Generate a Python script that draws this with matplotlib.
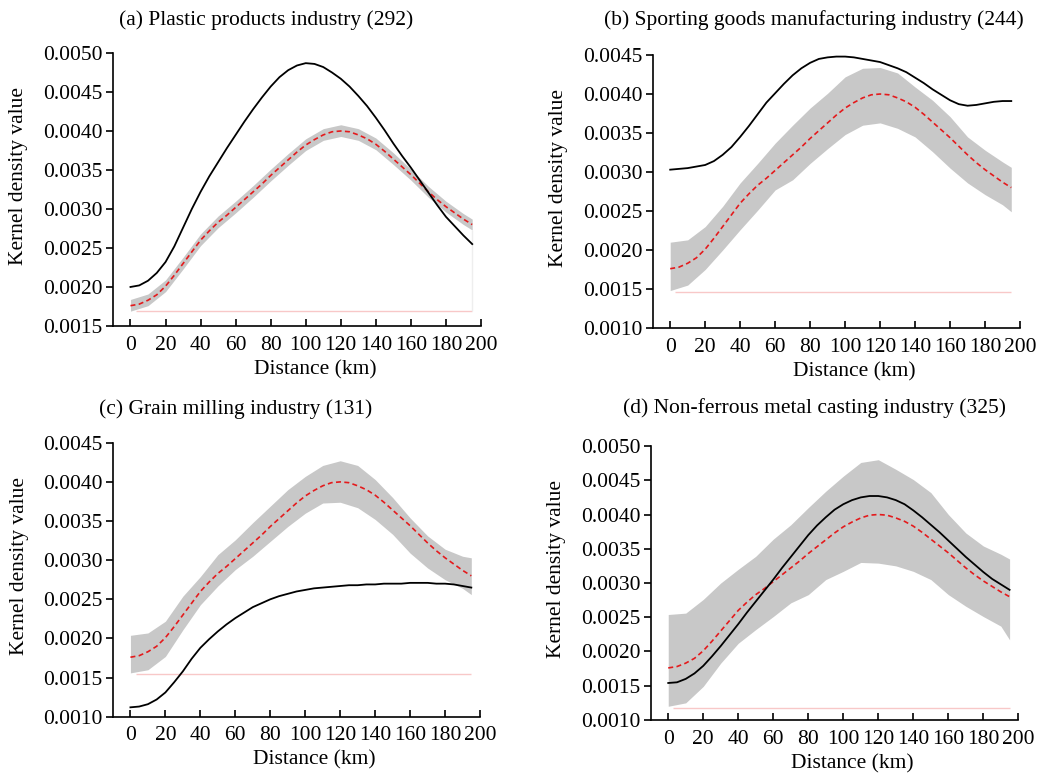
import numpy as np
import matplotlib
matplotlib.use('Agg')
import matplotlib.pyplot as plt

plt.rcParams['font.family'] = ['Liberation Serif', 'DejaVu Serif']

# Distance (km): 5 km step for lines, 10 km step for envelopes
dist_line = [0, 5, 10, 15, 20, 25, 30, 35, 40, 45, 50, 55, 60, 65, 70, 75, 80,
             85, 90, 95, 100, 105, 110, 115, 120, 125, 130, 135, 140, 145, 150,
             155, 160, 165, 170, 175, 180, 185, 190, 195]
dist_band = [0, 10, 20, 30, 40, 50, 60, 70, 80, 90, 100,
             110, 120, 130, 140, 150, 160, 170, 180, 190, 195]

# mean of simulated patterns (same in all panels)
sim_mean = [0.00176, 0.00178, 0.00183, 0.00190, 0.00201, 0.00215, 0.00230,
            0.00245, 0.00260, 0.00272, 0.00283, 0.00292, 0.00302, 0.00312,
            0.00322, 0.00332, 0.00343, 0.00353, 0.00363, 0.00373, 0.00382,
            0.00389, 0.00395, 0.00399, 0.00400, 0.00399, 0.00395, 0.00390,
            0.00383, 0.00374, 0.00364, 0.00354, 0.00344, 0.00333, 0.00322,
            0.00312, 0.00303, 0.00295, 0.00287, 0.00280]

# (a) Plastic products industry
a_obs = [0.00200, 0.00202, 0.00208, 0.00218, 0.00232, 0.00252, 0.00276,
         0.00300, 0.00322, 0.00342, 0.00360, 0.00378, 0.00395, 0.00412,
         0.00428, 0.00443, 0.00457, 0.00469, 0.00478, 0.00484, 0.00487,
         0.00486, 0.00482, 0.00475, 0.00467, 0.00457, 0.00445, 0.00432,
         0.00417, 0.00401, 0.00384, 0.00368, 0.00353, 0.00337, 0.00321,
         0.00305, 0.00290, 0.00278, 0.00266, 0.00255]
a_upper = [0.00184, 0.00191, 0.00209, 0.00238, 0.00268, 0.00291, 0.00310,
           0.00330, 0.00351, 0.00371, 0.00390, 0.00403, 0.00408, 0.00403,
           0.00391, 0.00372, 0.00351, 0.00329, 0.00310, 0.00294, 0.00287]
a_lower = [0.00169, 0.00176, 0.00194, 0.00223, 0.00253, 0.00276, 0.00295,
           0.00315, 0.00336, 0.00356, 0.00375, 0.00388, 0.00393, 0.00388,
           0.00376, 0.00357, 0.00337, 0.00315, 0.00296, 0.00280, 0.00273]
a_base = 0.00169

# (b) Sporting goods manufacturing industry
b_obs = [0.00303, 0.00304, 0.00305, 0.00307, 0.00309, 0.00314, 0.00322,
         0.00332, 0.00345, 0.00359, 0.00374, 0.00389, 0.00401, 0.00413,
         0.00424, 0.00433, 0.00440, 0.00445, 0.00447, 0.00448, 0.00448,
         0.00447, 0.00445, 0.00443, 0.00441, 0.00437, 0.00433, 0.00428,
         0.00421, 0.00414, 0.00406, 0.00399, 0.00392, 0.00387, 0.00385,
         0.00386, 0.00388, 0.00390, 0.00391, 0.00391]
b_upper = [0.00210, 0.00213, 0.00230, 0.00256, 0.00286, 0.00311, 0.00337,
           0.00360, 0.00382, 0.00401, 0.00422, 0.00433, 0.00434, 0.00427,
           0.00409, 0.00392, 0.00371, 0.00345, 0.00328, 0.00313, 0.00306]
b_lower = [0.00148, 0.00155, 0.00175, 0.00200, 0.00226, 0.00251, 0.00277,
           0.00290, 0.00311, 0.00330, 0.00348, 0.00360, 0.00363, 0.00356,
           0.00345, 0.00326, 0.00305, 0.00286, 0.00271, 0.00258, 0.00249]
b_base = 0.00146

# (c) Grain milling industry
c_obs = [0.00112, 0.00113, 0.00116, 0.00122, 0.00131, 0.00144, 0.00158,
         0.00174, 0.00188, 0.00199, 0.00209, 0.00218, 0.00226, 0.00233,
         0.00240, 0.00245, 0.00250, 0.00254, 0.00257, 0.00260, 0.00262,
         0.00264, 0.00265, 0.00266, 0.00267, 0.00268, 0.00268, 0.00269,
         0.00269, 0.00270, 0.00270, 0.00270, 0.00271, 0.00271, 0.00271,
         0.00270, 0.00270, 0.00269, 0.00267, 0.00265]
c_upper = [0.00204, 0.00207, 0.00222, 0.00254, 0.00279, 0.00307, 0.00326,
           0.00348, 0.00369, 0.00390, 0.00407, 0.00421, 0.00427, 0.00421,
           0.00403, 0.00380, 0.00354, 0.00331, 0.00314, 0.00305, 0.00303]
c_lower = [0.00156, 0.00160, 0.00177, 0.00211, 0.00243, 0.00267, 0.00288,
           0.00305, 0.00324, 0.00343, 0.00360, 0.00373, 0.00374, 0.00367,
           0.00352, 0.00333, 0.00309, 0.00290, 0.00275, 0.00264, 0.00256]
c_base = 0.00155

# (d) Non-ferrous metal casting industry
d_obs = [0.00154, 0.00155, 0.00160, 0.00168, 0.00179, 0.00193, 0.00208,
         0.00224, 0.00240, 0.00257, 0.00273, 0.00289, 0.00305, 0.00322,
         0.00338, 0.00354, 0.00370, 0.00384, 0.00396, 0.00407, 0.00415,
         0.00421, 0.00425, 0.00427, 0.00427, 0.00425, 0.00421, 0.00415,
         0.00406, 0.00396, 0.00385, 0.00374, 0.00362, 0.00350, 0.00338,
         0.00327, 0.00316, 0.00306, 0.00298, 0.00290]
d_upper = [0.00254, 0.00256, 0.00276, 0.00300, 0.00320, 0.00339, 0.00364,
           0.00385, 0.00410, 0.00434, 0.00456, 0.00476, 0.00480, 0.00466,
           0.00451, 0.00432, 0.00400, 0.00373, 0.00354, 0.00342, 0.00335]
d_lower = [0.00120, 0.00125, 0.00149, 0.00183, 0.00212, 0.00232, 0.00251,
           0.00271, 0.00283, 0.00305, 0.00317, 0.00330, 0.00329, 0.00325,
           0.00317, 0.00305, 0.00283, 0.00266, 0.00251, 0.00237, 0.00217]
d_base = 0.00118

titles = ['(a) Plastic products industry (292)',
          '(b) Sporting goods manufacturing industry (244)',
          '(c) Grain milling industry (131)',
          '(d) Non-ferrous metal casting industry (325)']
ylims = [(0.0015, 0.0050), (0.0010, 0.0045), (0.0010, 0.0045), (0.0010, 0.0050)]

panels = [(a_obs, a_upper, a_lower, a_base),
          (b_obs, b_upper, b_lower, b_base),
          (c_obs, c_upper, c_lower, c_base),
          (d_obs, d_upper, d_lower, d_base)]

# axes rectangles in figure fraction, title positions
rects = [[0.1084, 0.5794, 0.3532, 0.3522],
         [0.6264, 0.5768, 0.3525, 0.3522],
         [0.1084, 0.0752, 0.3523, 0.3535],
         [0.6245, 0.0710, 0.3528, 0.3535]]
title_pos = [(0.2553, 0.974), (0.7812, 0.974), (0.2265, 0.4723), (0.7812, 0.4735)]

fs = 15.5

fig = plt.figure(figsize=(10.42, 7.75), dpi=100)

for i in range(4):
    obs, upper, lower, base = panels[i]
    ax = fig.add_axes(rects[i])

    ax.fill_between(dist_band, lower, upper, color='#c8c8c8', lw=0)
    ax.hlines(base, 3, dist_band[-1], color='#f8c8c8', lw=1.0)
    if i == 0:
        # faint edge at the right end of panel (a)
        ax.vlines(dist_band[-1], base, lower[-1], color='#eeeeee', lw=1.0)
    ax.plot(dist_line, sim_mean, '--', color='#e41a1c', lw=1.2, dashes=(3, 2))
    ax.plot(dist_line, obs, '-', color='black', lw=1.3)

    ax.set_xlim(-10, 200)
    ax.set_ylim(ylims[i])
    ax.set_xticks(np.arange(0, 201, 20))
    ax.set_yticks(np.arange(ylims[i][0], ylims[i][1] + 1e-9, 0.0005))
    ax.yaxis.set_major_formatter(matplotlib.ticker.FormatStrFormatter('%.4f'))

    for side in ['top', 'right']:
        ax.spines[side].set_visible(False)
    for side in ['left', 'bottom']:
        ax.spines[side].set_linewidth(1.2)

    ax.tick_params(axis='x', direction='in', length=5, width=1.2, labelsize=fs, pad=7)
    ax.tick_params(axis='y', direction='out', length=5, width=1.2, labelsize=fs, pad=2.5)

    ax.set_xlabel('Distance (km)', size=fs)
    ax.set_ylabel('Kernel density value', size=fs)
    ax.xaxis.set_label_coords(0.549, -0.124)
    ax.yaxis.set_label_coords(-0.23, 0.55)

    fig.text(title_pos[i][0], title_pos[i][1], titles[i], size=fs,
             ha='center', va='center')

plt.savefig('out.png', dpi=100)
